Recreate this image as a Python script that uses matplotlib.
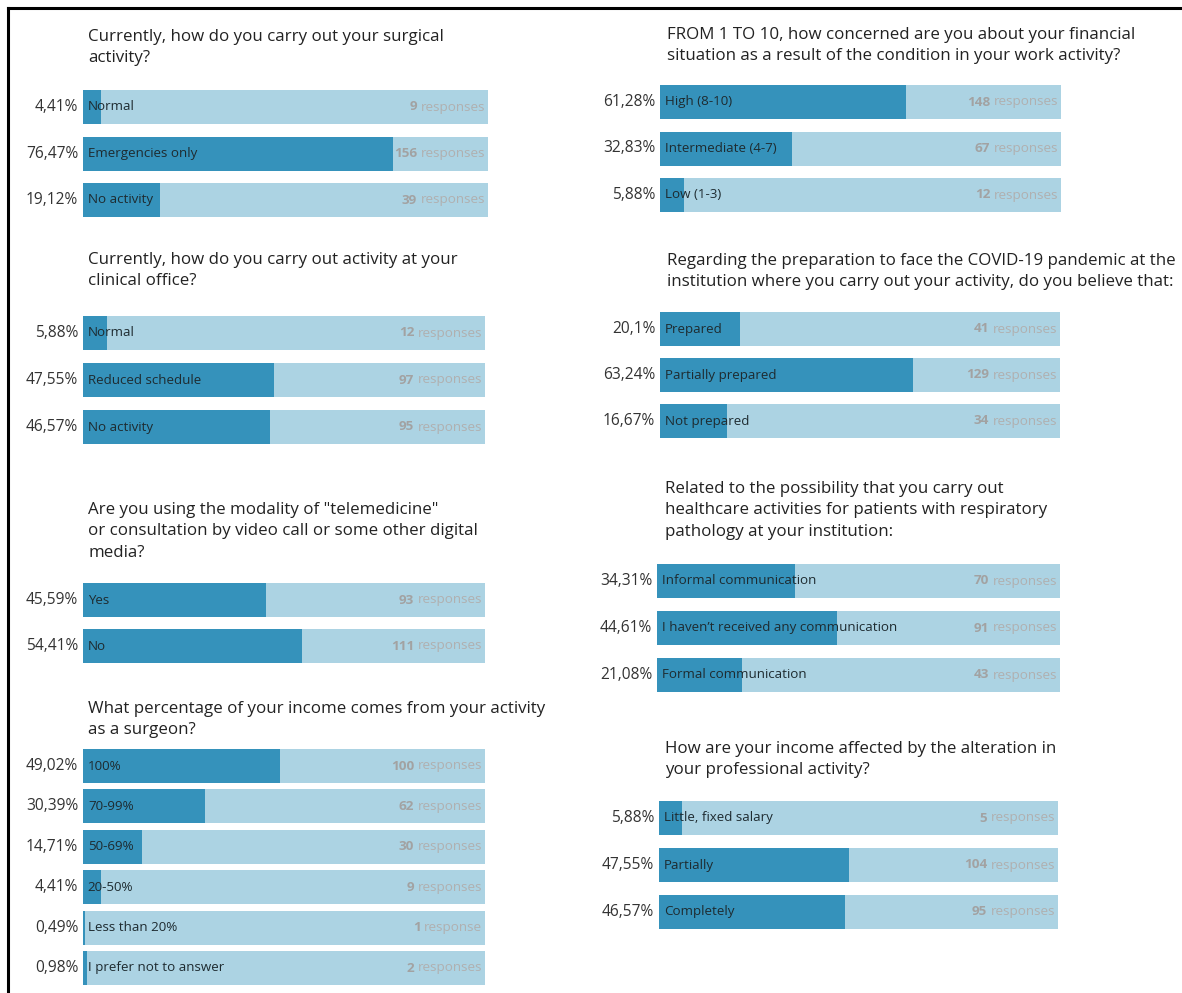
import matplotlib.pyplot as plt
from matplotlib.lines import Line2D

plt.rcParams['font.family'] = ['Open Sans', 'DejaVu Sans']

W, H = 1182, 993

# datos de cada pregunta
titles = [
    "Currently, how do you carry out your surgical\nactivity?",
    "Currently, how do you carry out activity at your\nclinical office?",
    "Are you using the modality of \"telemedicine\"\nor consultation by video call or some other digital\nmedia?",
    "What percentage of your income comes from your activity\nas a surgeon?",
    "FROM 1 TO 10, how concerned are you about your financial\nsituation as a result of the condition in your work activity?",
    "Regarding the preparation to face the COVID-19 pandemic at the\ninstitution where you carry out your activity, do you believe that:",
    "Related to the possibility that you carry out\nhealthcare activities for patients with respiratory\npathology at your institution:",
    "How are your income affected by the alteration in\nyour professional activity?",
]

labels = [
    ["Normal", "Emergencies only", "No activity"],
    ["Normal", "Reduced schedule", "No activity"],
    ["Yes", "No"],
    ["100%", "70-99%", "50-69%", "20-50%", "Less than 20%", "I prefer not to answer"],
    ["High (8-10)", "Intermediate (4-7)", "Low (1-3)"],
    ["Prepared", "Partially prepared", "Not prepared"],
    ["Informal communication", "I haven\u2019t received any communication", "Formal communication"],
    ["Little, fixed salary", "Partially", "Completely"],
]

pcts = [
    [4.41, 76.47, 19.12],
    [5.88, 47.55, 46.57],
    [45.59, 54.41],
    [49.02, 30.39, 14.71, 4.41, 0.49, 0.98],
    [61.28, 32.83, 5.88],
    [20.1, 63.24, 16.67],
    [34.31, 44.61, 21.08],
    [5.88, 47.55, 46.57],
]

counts = [
    [9, 156, 39],
    [12, 97, 95],
    [93, 111],
    [100, 62, 30, 9, 1, 2],
    [148, 67, 12],
    [41, 129, 34],
    [70, 91, 43],
    [5, 104, 95],
]

# posicion de cada panel en pixeles: x0, x1, primera fila, ultima fila, titulo x, titulo y
layout = [
    (83, 488, 107, 200, 88, 29),
    (83, 485, 333, 427, 88, 252),
    (83, 485, 600, 646, 88, 502),
    (83, 485, 766, 968, 88, 701),
    (660, 1061, 102, 195, 667, 27),
    (660, 1060, 329, 421, 667, 253),
    (657, 1060, 581, 675, 665, 481),
    (659, 1058, 818, 912, 665, 741),
]

oscuro = "#3592bb"
claro = "#acd3e3"
gris = "#a2a2a2"
bar_px = 34

fig = plt.figure(figsize=(W / 100, H / 100), dpi=100)

for k in range(len(titles)):
    x0, x1, r0, rn, tx, ty = layout[k]
    n = len(labels[k])
    sep = (rn - r0) / (n - 1)
    m = bar_px / 2
    ax = fig.add_axes([x0 / W, 1 - (rn + m) / H, (x1 - x0) / W, (rn - r0 + 2 * m) / H])
    ys = list(range(n))
    hb = bar_px / sep
    ax.barh(ys, [100] * n, height=hb, color=claro, left=0)
    ax.barh(ys, pcts[k], height=hb, color=oscuro, left=0)
    ax.set_xlim(0, 100)
    ax.set_ylim(n - 1 + m / sep, -m / sep)
    ax.axis("off")

    for i in range(n):
        ax.annotate(labels[k][i], xy=(0, i), xytext=(3.5, 0), textcoords="offset points",
                    ha="left", va="center", fontsize=9.6, color="#1e2b30")
        txt = ("%g" % pcts[k][i]).replace(".", ",") + "%"
        ax.annotate(txt, xy=(0, i), xytext=(-3.5, 0), textcoords="offset points",
                    ha="right", va="center", fontsize=11.2, color="#333333")
        word = "response" if counts[k][i] == 1 else "responses"
        t = ax.annotate(word, xy=(100, i), xytext=(-2, 0), textcoords="offset points",
                        ha="right", va="center", fontsize=9.7, color="#b0b0b0")
        ax.annotate(str(counts[k][i]), xy=(0, 0.5), xycoords=t, xytext=(-2.5, 0),
                    textcoords="offset points", ha="right", va="center",
                    fontsize=9.7, color=gris, fontweight="bold")

    fig.text(tx / W, 1 - ty / H, titles[k], ha="left", va="top", fontsize=12.2,
             color="#222222", linespacing=1.45)

# marco negro arriba e izquierda
fig.add_artist(Line2D([8 / W, 8 / W], [0, 1 - 8 / H], color="black", lw=2.2))
fig.add_artist(Line2D([8 / W, 1], [1 - 8 / H, 1 - 8 / H], color="black", lw=2.2))

plt.savefig("out.png", dpi=100)
